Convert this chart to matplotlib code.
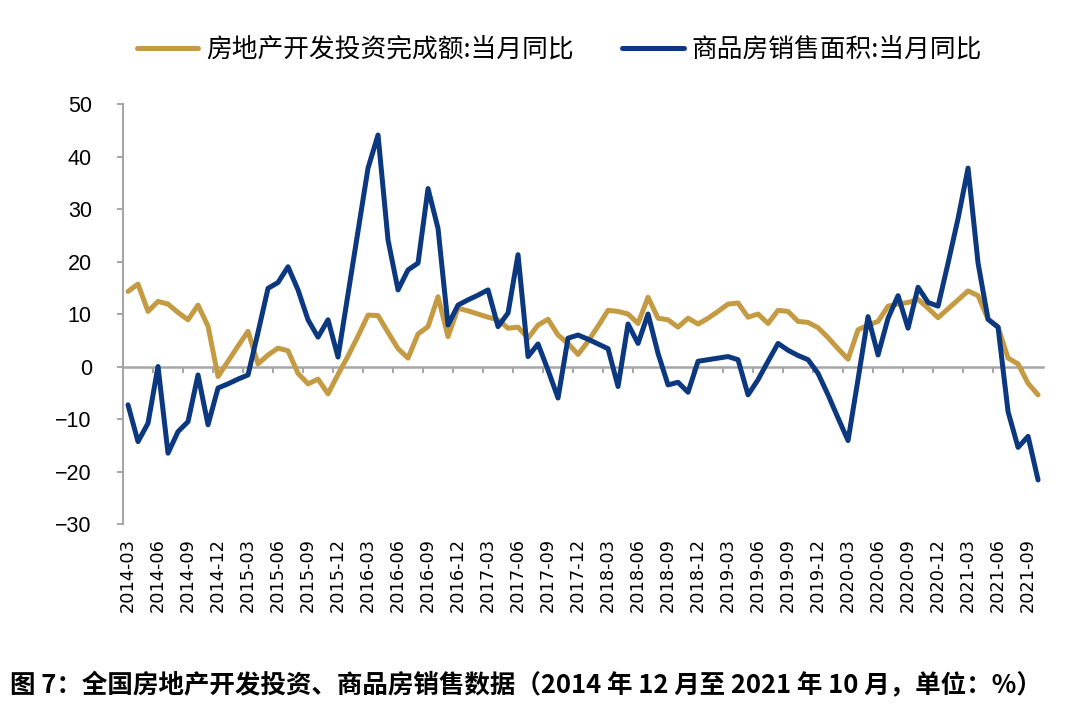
import numpy as np
import pandas as pd
import matplotlib
matplotlib.use("Agg")
import matplotlib.pyplot as plt

# monthly categories 2014-03 .. 2021-10
months = pd.period_range("2014-03", "2021-10", freq="M").strftime("%Y-%m").tolist()

# 房地产开发投资完成额:当月同比 (%)
invest = [14.3, 15.7, 10.5, 12.4, 11.9, 10.3, 8.9, 11.7, 7.7, -1.9,
          1.0, 3.9, 6.7, 0.5, 2.2, 3.5, 3.0, -1.3, -3.3, -2.4,
          -5.2, -1.5, 2.0, 5.8, 9.8, 9.7, 6.5, 3.4, 1.6, 6.2,
          7.6, 13.3, 5.7, 11.1, 10.6, 10.0, 9.4, 8.9, 7.3, 7.5,
          5.4, 7.9, 9.0, 6.0, 4.4, 2.3, 4.8, 7.7, 10.7, 10.5,
          10.0, 8.2, 13.2, 9.2, 8.9, 7.5, 9.2, 8.1, 9.2, 10.5,
          11.9, 12.1, 9.4, 10.0, 8.2, 10.7, 10.5, 8.6, 8.4, 7.4,
          5.5, 3.4, 1.4, 7.0, 7.9, 8.6, 11.5, 11.9, 12.2, 12.8,
          11.1, 9.3, 11.0, 12.7, 14.4, 13.5, 9.0, 7.5, 1.6, 0.5,
          -3.2, -5.4]

# 商品房销售面积:当月同比 (%)
sales = [-7.3, -14.3, -10.8, 0.0, -16.5, -12.4, -10.5, -1.6, -11.1, -4.1,
         -3.3, -2.4, -1.6, 6.5, 14.9, 16.0, 19.0, 14.6, 8.9, 5.6,
         8.9, 1.8, 13.8, 25.8, 37.8, 44.1, 24.1, 14.6, 18.4, 19.7,
         33.9, 26.3, 7.9, 11.7, 12.7, 13.6, 14.6, 7.6, 10.2, 21.3,
         1.9, 4.3, -0.7, -6.0, 5.4, 6.0, 5.2, 4.3, 3.4, -3.8,
         8.1, 4.4, 10.0, 2.5, -3.5, -3.0, -4.9, 1.0, 1.3, 1.6,
         1.9, 1.3, -5.4, -2.5, 1.0, 4.4, 3.1, 2.1, 1.3, -1.3,
         -5.4, -9.8, -14.1, -2.4, 9.5, 2.2, 9.2, 13.5, 7.3, 15.1,
         12.2, 11.5, 19.7, 28.2, 37.8, 19.7, 9.0, 7.5, -8.6, -15.4,
         -13.3, -21.6]

label_invest = "房地产开发投资完成额:当月同比"
label_sales = "商品房销售面积:当月同比"
caption = "图 7：全国房地产开发投资、商品房销售数据（2014 年 12 月至 2021 年 10 月，单位：%）"

gold = "#C49A42"
blue = "#0C3880"
gray = "#A6A6A6"

plt.rcParams['font.family'] = ['Liberation Sans', 'Noto Sans CJK SC', 'DejaVu Sans']

fig = plt.figure(figsize=(10.8, 7.12), dpi=100)
ax = fig.add_axes([0.1139, 0.2640, 0.8519, 0.5899])

x = np.arange(len(months))
ax.plot(x, invest, color=gold, lw=3.6, solid_joinstyle='round', solid_capstyle='round',
        label=label_invest)
ax.plot(x, sales, color=blue, lw=3.6, solid_joinstyle='round', solid_capstyle='round',
        label=label_sales)

ax.set_xlim(-0.5, len(months) - 0.5)
ax.set_ylim(-30, 50)
ax.set_yticks(range(-30, 51, 10))
ax.tick_params(axis='y', direction='out', length=4.5, width=1.4, color=gray,
               pad=18, labelsize=15.5)

for s in ['top', 'right']:
    ax.spines[s].set_visible(False)
ax.spines['left'].set_color(gray)
ax.spines['left'].set_linewidth(1.5)
ax.spines['bottom'].set_position(('data', 0))
ax.spines['bottom'].set_color(gray)
ax.spines['bottom'].set_linewidth(1.8)
ax.spines['bottom'].set_zorder(0.5)

# tick marks on the zero line between every 3rd category
ax.set_xticks(np.arange(-0.5, len(months) - 1, 3))
ax.tick_params(axis='x', direction='out', length=4.5, width=1.4, color=gray,
               labelbottom=False)

# category labels at the bottom of the plot area
lab = ax.secondary_xaxis('bottom')
lab.set_xticks(x[::3], months[::3])
lab.tick_params(length=0, pad=10)
lab.spines['bottom'].set_visible(False)
for t in lab.get_xticklabels():
    t.set_rotation(90)
    t.set_fontfamily('DejaVu Sans')
    t.set_fontsize(12.8)

fig.legend(loc='center', bbox_to_anchor=(0.518, 0.930), ncol=2, frameon=False,
           prop={'family': ['Noto Sans CJK SC'], 'size': 18.5},
           handlelength=2.4, handletextpad=0.3, columnspacing=1.9)

fig.text(0.009, 1 - 686 / 712, caption, ha='left', va='center',
         family=['Noto Sans CJK SC', 'DejaVu Sans'], fontsize=18.4, fontweight='bold')

fig.savefig("out.png", dpi=100, facecolor='white')
